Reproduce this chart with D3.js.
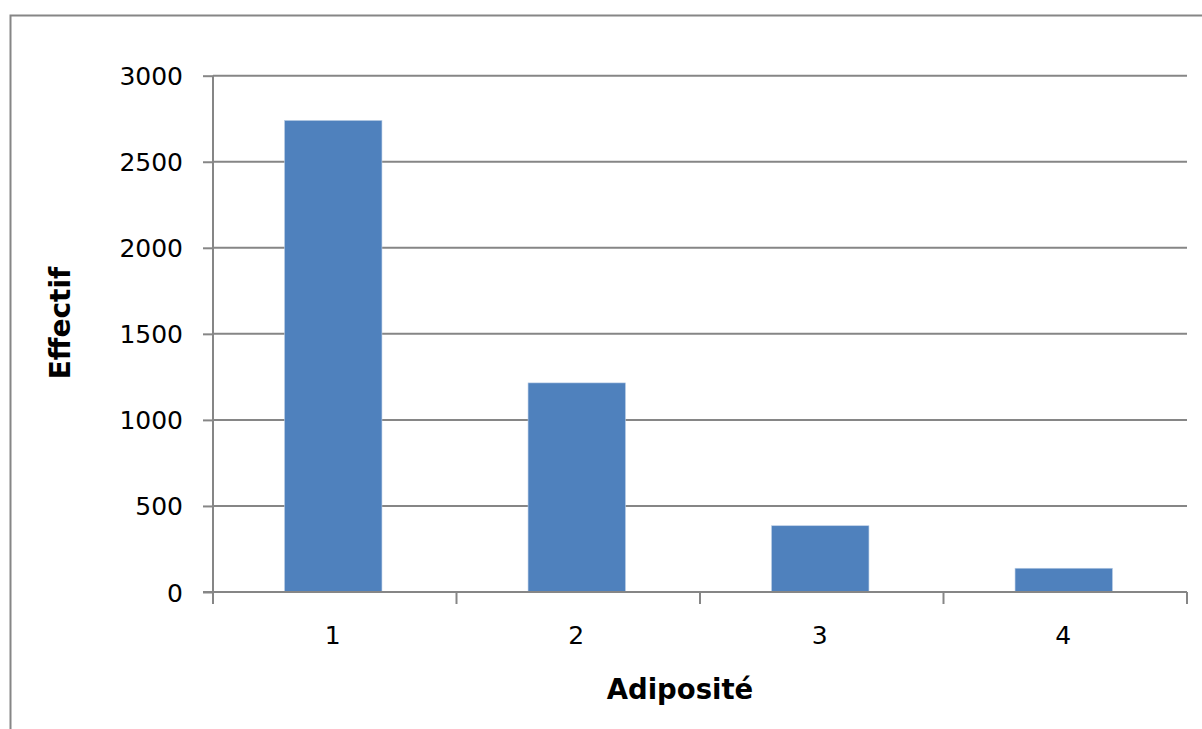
<!DOCTYPE html>
<html><head><meta charset="utf-8">
<script src="https://cdn.jsdelivr.net/npm/d3@7"></script>
<style>body{margin:0;background:#fff;}svg{display:block;}</style>
</head><body>
<script>
const categories = ["1", "2", "3", "4"];
const values = [2740, 1215, 385, 138];
const yTicks = [0, 500, 1000, 1500, 2000, 2500, 3000];
const xTitle = "Adiposité";
const yTitle = "Effectif";

const W = 1202, H = 729;
const svg = d3.select("body").append("svg").attr("width", W).attr("height", H);
svg.append("rect").attr("width", W).attr("height", H).attr("fill", "#fff");
// outer frame
svg.append("rect").attr("x", 10.5).attr("y", 15.5).attr("width", W + 10).attr("height", H + 10)
  .attr("fill", "none").attr("stroke", "#868686").attr("stroke-width", 2);

const m = {left: 213, right: 1187, top: 75.7, bottom: 592};
const x = d3.scaleBand().domain(categories).range([m.left, m.right]).paddingInner(0.6).paddingOuter(0.3);
const xb = d3.scaleBand().domain(categories).range([m.left, m.right]);
const y = d3.scaleLinear().domain([0, 3000]).range([m.bottom, m.top]);
const font = "'DejaVu Sans', sans-serif";

// gridlines
svg.append("g").selectAll("line").data(yTicks.filter(d => d > 0)).join("line")
  .attr("x1", m.left).attr("x2", m.right).attr("y1", d => y(d)).attr("y2", d => y(d))
  .attr("stroke", "#868686").attr("stroke-width", 2);

// bars
svg.append("g").selectAll("rect").data(values).join("rect")
  .attr("x", (d, i) => x(categories[i]) - 1.5).attr("width", x.bandwidth())
  .attr("y", d => y(d)).attr("height", d => y(0) - y(d))
  .attr("fill", "#4f81bd").attr("stroke", "#b9cde5").attr("stroke-width", 0.6);

// y axis
const ya = svg.append("g").attr("transform", `translate(${m.left},0)`)
  .call(d3.axisLeft(y).tickValues(yTicks).tickSize(10).tickPadding(20).tickFormat(d3.format("d")));
ya.select(".domain").attr("stroke", "#868686").attr("stroke-width", 2).attr("d", `M0,${m.top}V${m.bottom}`);
ya.selectAll(".tick line").attr("stroke", "#868686").attr("stroke-width", 2);
ya.selectAll(".tick text").attr("font-family", font).attr("font-size", 25).attr("fill", "#000").attr("dy", "0.36em");

// x axis
const xa = svg.append("g").attr("transform", `translate(0,${m.bottom})`)
  .call(d3.axisBottom(xb).tickSize(0).tickPadding(34));
xa.select(".domain").attr("stroke", "#868686").attr("stroke-width", 2).attr("d", `M${m.left - 10},0H${m.right}`);
xa.selectAll(".tick text").attr("font-family", font).attr("font-size", 25).attr("fill", "#000")
  .attr("transform", "translate(-2,0)");
svg.append("g").selectAll("line").data([m.left, ...categories.map(c => xb(c) + xb.bandwidth())]).join("line")
  .attr("x1", d => d).attr("x2", d => d).attr("y1", m.bottom).attr("y2", m.bottom + 12)
  .attr("stroke", "#868686").attr("stroke-width", 2);

// titles
svg.append("text").attr("x", 680).attr("y", 699).attr("text-anchor", "middle")
  .attr("font-family", font).attr("font-weight", "bold").attr("font-size", 27.5).text(xTitle);
svg.append("text").attr("transform", "translate(70,323) rotate(-90)").attr("text-anchor", "middle")
  .attr("font-family", font).attr("font-weight", "bold").attr("font-size", 28).text(yTitle);
</script>
</body></html>
